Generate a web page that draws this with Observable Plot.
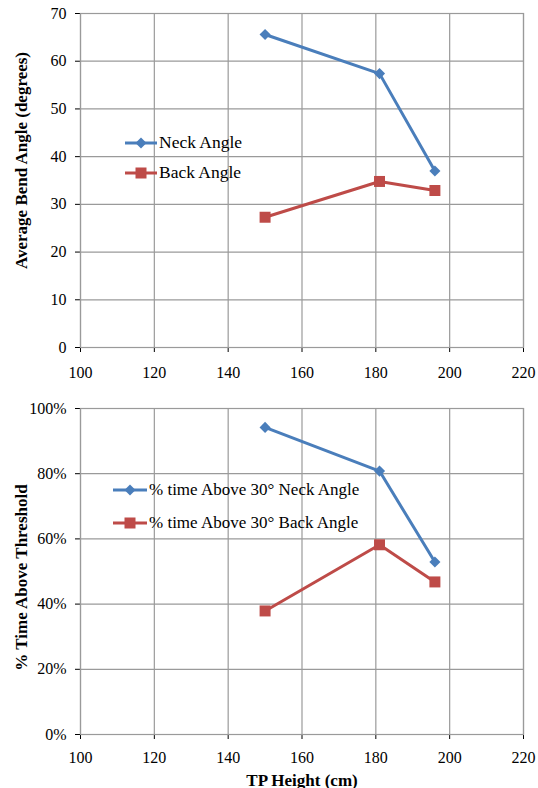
<!DOCTYPE html>
<html>
<head>
<meta charset="utf-8">
<script src="https://cdn.jsdelivr.net/npm/d3@7"></script>
<script src="https://cdn.jsdelivr.net/npm/@observablehq/plot@0.6"></script>
<style>
  body { margin: 0; background: #fff; font-family: "Liberation Serif", "Times New Roman", serif; }
  #wrap { position: relative; width: 538px; }
  .legend { position: absolute; font-family: "Liberation Serif", serif; color: #000; }
  .legend .row { display: flex; align-items: center; white-space: nowrap; position: absolute; left: 0; }
  .legend svg { display: block; }
</style>
</head>
<body>
<div id="wrap"></div>
<script>
const heights = [150, 181, 196];
const neckAngle = [65.6, 57.4, 37.0];
const backAngle = [27.3, 34.8, 32.9];
const neckPct = [0.942, 0.808, 0.529];
const backPct = [0.379, 0.582, 0.468];
const xTicks = [100, 120, 140, 160, 180, 200, 220];
const yTicksTop = [0, 10, 20, 30, 40, 50, 60, 70];
const yTicksBottom = [0, 0.2, 0.4, 0.6, 0.8, 1.0];
const seriesTop = ["Neck Angle", "Back Angle"];
const seriesBottom = ["% time Above 30° Neck Angle", "% time Above 30° Back Angle"];
const yTitleTop = "Average Bend Angle (degrees)";
const yTitleBottom = "% Time Above Threshold";
const xTitle = "TP Height (cm)";

const BLUE = "#4a7ebb";
const RED = "#be4b48";
const GRID = "#9a9a9a";

const topData = heights.map((h, i) => ({h, v: neckAngle[i], s: seriesTop[0]}))
  .concat(heights.map((h, i) => ({h, v: backAngle[i], s: seriesTop[1]})));
const botData = heights.map((h, i) => ({h, v: neckPct[i], s: seriesBottom[0]}))
  .concat(heights.map((h, i) => ({h, v: backPct[i], s: seriesBottom[1]})));

function chart({data, series, yDomain, yTicks, yFormat, yLabel, yLabelDy, height, marginTop, marginBottom, xLabel, xPad}) {
  const marks = [
    Plot.ruleX(xTicks, {stroke: GRID, strokeWidth: 1.2}),
    Plot.ruleY(yTicks, {stroke: GRID, strokeWidth: 1.2}),
    Plot.frame({stroke: GRID, strokeWidth: 1.2}),
    Plot.line(data, {x: "h", y: "v", z: "s", stroke: "s", strokeWidth: 3}),
    Plot.dot(data.filter(d => d.s === series[0]), {x: "h", y: "v", fill: BLUE, stroke: "none", symbol: "diamond2", r: 5}),
    Plot.dot(data.filter(d => d.s === series[1]), {x: "h", y: "v", fill: RED, stroke: "none", symbol: "square", r: 6.2}),
    Plot.text([yLabel], {frameAnchor: "left", dx: -59, dy: yLabelDy, rotate: -90, fontWeight: "bold", fontSize: 17, textAnchor: "middle"})
  ];
  if (xLabel) marks.push(Plot.text([xLabel], {frameAnchor: "bottom", lineAnchor: "bottom", dy: 51, fontWeight: "bold", fontSize: 17, textAnchor: "middle"}));
  return Plot.plot({
    width: 538,
    height,
    marginTop,
    marginBottom,
    marginLeft: 80,
    marginRight: 15,
    style: "font-family: 'Liberation Serif', serif; font-size: 16px; color: #000; background: #fff;",
    x: {domain: [100, 220], ticks: xTicks, tickSize: 5, tickPadding: xPad, label: null},
    y: {domain: yDomain, ticks: yTicks, tickSize: 5, tickPadding: 9, tickFormat: yFormat, label: null},
    color: {domain: series, range: [BLUE, RED]},
    marks
  });
}

const wrap = document.getElementById("wrap");
const top1 = chart({data: topData, series: seriesTop, yDomain: [0, 70], yTicks: yTicksTop, yFormat: d => d,
  yLabel: yTitleTop, yLabelDy: -20, height: 380, marginTop: 13, marginBottom: 33, xLabel: null, xPad: 14});
const bot1 = chart({data: botData, series: seriesBottom, yDomain: [0, 1], yTicks: yTicksBottom, yFormat: d3.format(".0%"),
  yLabel: yTitleBottom, yLabelDy: 6, height: 408, marginTop: 28, marginBottom: 54, xLabel: xTitle, xPad: 12});
for (const svg of [top1, bot1]) svg.style.display = "block";
wrap.appendChild(top1);
wrap.appendChild(bot1);

function legend(items, left, top, gap, lineW, fontSize) {
  const div = document.createElement("div");
  div.className = "legend";
  div.style.left = left + "px";
  div.style.top = top + "px";
  items.forEach((it, i) => {
    const row = document.createElement("div");
    row.className = "row";
    row.style.top = (i * gap) + "px";
    row.style.fontSize = fontSize + "px";
    const sym = it.symbol === "diamond"
      ? `<path d="M${lineW/2} 4.5 l5.5 5.5 l-5.5 5.5 l-5.5 -5.5z" fill="${it.color}"/>`
      : `<rect x="${lineW/2 - 5.5}" y="4.5" width="11" height="11" fill="${it.color}"/>`;
    row.innerHTML = `<svg width="${lineW}" height="20"><line x1="0" x2="${lineW}" y1="10" y2="10" stroke="${it.color}" stroke-width="3"/>${sym}</svg><span style="margin-left:2px">${it.label}</span>`;
    div.appendChild(row);
  });
  wrap.appendChild(div);
}
legend([{label: seriesTop[0], color: BLUE, symbol: "diamond"}, {label: seriesTop[1], color: RED, symbol: "square"}], 125, 132, 30, 32, 17.5);
legend([{label: seriesBottom[0], color: BLUE, symbol: "diamond"}, {label: seriesBottom[1], color: RED, symbol: "square"}], 113, 480, 32.5, 34, 17);
</script>
</body>
</html>
